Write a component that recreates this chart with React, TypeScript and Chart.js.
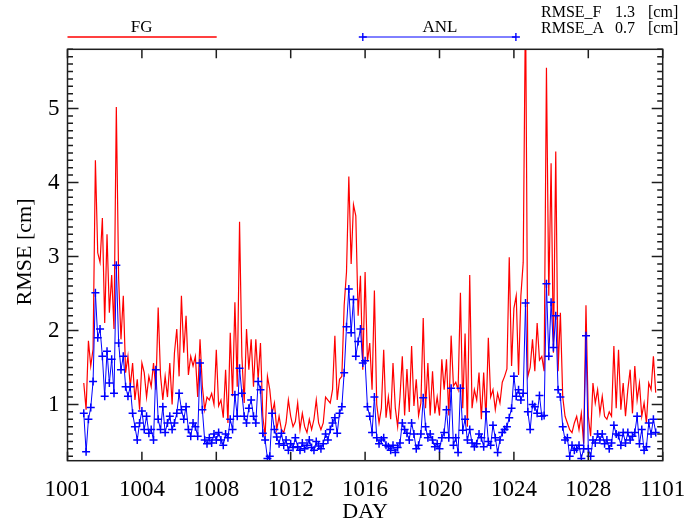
import React, { useEffect, useRef } from "react";
import { Chart, registerables } from "chart.js";

Chart.register(...registerables);

// ---- data ----
const xTickValues = [0, 4, 8, 12, 16, 20, 24, 28, 32];
const xTickLabels = ["1001", "1004", "1008", "1012", "1016", "1020", "1024", "1028", "1101"];
const yTickValues = [1, 2, 3, 4, 5];
const yMin = 0.24;
const yMax = 5.8;
const xMin = 0;
const xMax = 32;
// 3-hourly samples
const startDay = 0.875;
const stepDay = 0.125;

const fgRmse = [
  1.29, 0.93, 1.86, 1.52, 1.75, 4.30, 3.05, 2.92, 3.52, 2.10,
  3.30, 2.24, 2.75, 2.02, 5.02, 2.70, 1.88, 2.47, 1.43, 1.65,
  1.24, 1.56, 1.06, 1.34, 0.93, 1.56, 1.43, 1.10, 1.38, 1.24,
  1.56, 1.20, 2.31, 1.40, 1.06, 1.38, 1.10, 1.56, 1.00, 1.70,
  2.02, 1.38, 2.47, 1.70, 2.20, 1.40, 1.65, 1.52, 1.65, 1.10,
  1.88, 1.25, 0.93, 1.10, 1.06, 1.15, 1.00, 1.74, 0.98, 1.06,
  0.82, 1.47, 0.75, 1.97, 1.11, 2.38, 1.24, 3.47, 1.65, 1.02,
  2.02, 1.47, 1.88, 1.24, 1.88, 1.34, 1.83, 0.84, 0.57, 1.38,
  1.20, 0.88, 1.02, 0.66, 0.84, 0.66, 0.62, 0.75, 1.06, 0.84,
  0.70, 0.77, 1.02, 0.66, 0.88, 0.70, 0.62, 0.80, 0.66, 0.80,
  1.06, 0.75, 0.66, 0.75, 1.10, 1.06, 1.02, 1.20, 1.93, 1.06,
  1.34, 1.38, 2.34, 2.79, 4.08, 2.90, 3.70, 3.55, 2.20, 2.74,
  1.47, 2.79, 1.58, 1.83, 1.20, 2.54, 1.00, 0.75, 0.95, 1.74,
  0.82, 1.10, 0.80, 1.56, 0.95, 0.70, 1.10, 1.65, 0.85, 1.48,
  0.90, 1.79, 0.98, 1.34, 0.85, 1.02, 2.17, 0.95, 1.56, 0.85,
  1.45, 0.88, 1.10, 0.85, 1.61, 1.20, 1.61, 0.85, 1.93, 1.25,
  1.30, 1.20, 2.51, 0.95, 1.96, 0.70, 2.75, 0.95, 1.20, 1.06,
  1.43, 0.80, 1.43, 0.80, 1.90, 1.10, 1.20, 0.93, 1.15, 1.02,
  1.30, 1.38, 1.48, 2.99, 1.52, 2.30, 2.47, 1.40, 2.47, 2.92,
  6.50, 1.38, 1.50, 1.88, 1.45, 2.10, 1.60, 1.65, 1.45, 5.55,
  2.47, 4.26, 1.70, 4.42, 1.45, 2.24, 1.10, 0.84, 0.75, 0.66,
  0.62, 0.75, 0.84, 0.66, 0.88, 0.47, 2.34, 0.84, 0.57, 1.29,
  1.02, 1.20, 0.88, 1.11, 0.84, 0.80, 0.90, 0.84, 1.79, 0.95,
  1.74, 0.93, 1.29, 0.84, 1.20, 1.47, 0.88, 1.52, 1.06, 1.29,
  0.84, 1.02, 0.75, 1.29, 1.20, 1.65, 1.16,
];

const anlRmse = [
  0.88, 0.36, 0.80, 0.96, 1.31, 2.51, 1.90, 2.02, 1.65, 1.11,
  1.72, 1.29, 1.61, 1.15, 2.88, 1.83, 1.47, 1.65, 1.24, 1.11,
  1.24, 0.88, 0.70, 0.52, 0.75, 0.91, 0.66, 0.84, 0.61, 0.66,
  0.52, 1.47, 0.80, 0.66, 0.97, 0.62, 0.75, 0.84, 0.66, 0.75,
  0.88, 1.15, 0.93, 0.80, 0.97, 0.66, 0.57, 0.75, 0.70, 0.57,
  1.56, 0.93, 0.52, 0.47, 0.55, 0.48, 0.60, 0.52, 0.62, 0.52,
  0.45, 0.60, 0.55, 0.80, 0.66, 1.13, 0.84, 1.49, 1.15, 0.84,
  0.75, 0.95, 1.06, 0.84, 0.75, 1.31, 1.20, 0.61, 0.52, 0.27,
  0.30, 0.88, 0.66, 0.56, 0.47, 0.61, 0.45, 0.52, 0.38, 0.47,
  0.42, 0.55, 0.43, 0.38, 0.48, 0.40, 0.45, 0.52, 0.42, 0.38,
  0.50, 0.44, 0.40, 0.47, 0.60, 0.52, 0.66, 0.75, 0.82, 0.61,
  0.88, 0.97, 1.43, 2.05, 2.56, 1.97, 2.42, 1.65, 1.85, 2.02,
  1.56, 1.59, 0.97, 0.84, 0.62, 1.10, 0.55, 0.47, 0.52, 0.55,
  0.45, 0.43, 0.38, 0.45, 0.35, 0.42, 0.48, 0.75, 0.66, 0.61,
  0.52, 0.75, 0.60, 0.40, 0.45, 0.60, 1.09, 0.70, 0.55, 0.60,
  0.52, 0.43, 0.47, 0.40, 0.55, 0.62, 0.93, 0.55, 1.22, 0.45,
  0.55, 0.35, 1.22, 0.65, 0.80, 0.52, 0.66, 0.48, 0.43, 0.47,
  0.60, 0.55, 0.43, 0.90, 0.50, 0.45, 0.72, 0.55, 0.35, 0.52,
  0.62, 0.66, 0.70, 0.82, 0.95, 1.38, 1.11, 1.20, 1.06, 1.15,
  2.37, 0.90, 0.66, 1.00, 0.97, 0.88, 1.12, 0.84, 0.85, 2.63,
  1.65, 2.38, 1.77, 2.20, 1.20, 1.10, 0.70, 0.52, 0.55, 0.30,
  0.45, 0.38, 0.40, 0.45, 0.27, 0.40, 1.93, 0.40, 0.30, 0.52,
  0.48, 0.60, 0.52, 0.60, 0.47, 0.52, 0.40, 0.48, 0.72, 0.60,
  0.58, 0.45, 0.62, 0.48, 0.62, 0.52, 0.57, 0.62, 0.84, 0.47,
  0.66, 0.38, 0.43, 0.75, 0.60, 0.80, 0.62,
];

const legendLabels = ["FG", "ANL"];
const statNames = ["RMSE_F", "RMSE_A"];
const statValues = ["1.3", "0.7"];
const statUnit = "[cm]";
const xTitle = "DAY";
const yTitle = "RMSE [cm]";

const FONT = "'Liberation Serif', 'DejaVu Serif', serif";
const RED = "rgb(255,0,0)";
const BLUE = "rgb(0,0,255)";

const toPoints = (vals: number[]) => vals.map((v, i) => ({ x: startDay + i * stepDay, y: v }));

function drawCross(ctx: CanvasRenderingContext2D, x: number, y: number, r: number) {
  ctx.moveTo(x - r, y);
  ctx.lineTo(x + r, y);
  ctx.moveTo(x, y - r);
  ctx.lineTo(x, y + r);
}

const idlPlugin = {
  id: "idlDecor",
  afterDatasetsDraw(chart: any) {
    const { ctx, chartArea: a, scales } = chart;
    const xs = scales.x;
    const ys = scales.y;
    ctx.save();
    ctx.strokeStyle = "#1e1e1e";
    ctx.lineWidth = 1.5;
    ctx.strokeRect(a.left, a.top, a.right - a.left, a.bottom - a.top);
    ctx.beginPath();
    for (const v of xTickValues) {
      const px = xs.getPixelForValue(v);
      ctx.moveTo(px, a.bottom);
      ctx.lineTo(px, a.bottom - 9);
      ctx.moveTo(px, a.top);
      ctx.lineTo(px, a.top + 9);
    }
    const k0 = Math.ceil(yMin * 10 - 1e-6);
    const k1 = Math.floor(yMax * 10 + 1e-6);
    for (let k = k0; k <= k1; k++) {
      const py = ys.getPixelForValue(k / 10);
      const len = k % 10 === 0 ? 11 : 5.5;
      ctx.moveTo(a.left, py);
      ctx.lineTo(a.left + len, py);
      ctx.moveTo(a.right, py);
      ctx.lineTo(a.right - len, py);
    }
    ctx.stroke();
    ctx.restore();
  },
  afterDraw(chart: any) {
    const { ctx, chartArea: a } = chart;
    ctx.save();
    ctx.fillStyle = "#000";
    // axis titles
    ctx.font = `22px ${FONT}`;
    ctx.textAlign = "center";
    ctx.textBaseline = "alphabetic";
    ctx.fillText(xTitle, (a.left + a.right) / 2, 518);
    ctx.save();
    ctx.translate(25, 252);
    ctx.rotate(-Math.PI / 2);
    ctx.textBaseline = "middle";
    ctx.fillText(yTitle, 0, 0);
    ctx.restore();

    // legend
    ctx.font = `17px ${FONT}`;
    ctx.textAlign = "center";
    ctx.fillText(legendLabels[0], 141.7, 32);
    ctx.fillText(legendLabels[1], 440, 32);
    ctx.lineWidth = 1.3;
    ctx.strokeStyle = RED;
    ctx.beginPath();
    ctx.moveTo(67.5, 37);
    ctx.lineTo(216.7, 37);
    ctx.stroke();
    ctx.strokeStyle = BLUE;
    ctx.lineWidth = 1;
    ctx.beginPath();
    ctx.moveTo(362.8, 37);
    ctx.lineTo(515.9, 37);
    ctx.stroke();
    ctx.lineWidth = 1.4;
    ctx.beginPath();
    drawCross(ctx, 362.8, 37, 4);
    drawCross(ctx, 515.9, 37, 4);
    ctx.stroke();

    // stats
    ctx.font = `16px ${FONT}`;
    ctx.textAlign = "left";
    const baselines = [17, 33];
    for (let i = 0; i < statNames.length; i++) {
      ctx.fillText(statNames[i], 541, baselines[i]);
      ctx.fillText(statValues[i], 615, baselines[i]);
      ctx.fillText(statUnit, 648, baselines[i]);
    }
    ctx.restore();
  },
};

export default function App() {
  const ref = useRef<HTMLCanvasElement | null>(null);
  useEffect(() => {
    document.body.style.margin = "0";
    const canvas = ref.current;
    if (!canvas) return;
    const chart = new Chart(canvas, {
      type: "scatter",
      data: {
        datasets: [
          {
            label: legendLabels[1],
            data: toPoints(anlRmse),
            showLine: true,
            borderColor: BLUE,
            borderWidth: 1,
            pointStyle: "cross",
            pointRadius: 4,
            pointBorderWidth: 1.5,
            pointBorderColor: BLUE,
            pointBackgroundColor: BLUE,
            tension: 0,
          },
          {
            label: legendLabels[0],
            data: toPoints(fgRmse),
            showLine: true,
            borderColor: RED,
            borderWidth: 1.2,
            pointRadius: 0,
            tension: 0,
          },
        ],
      },
      options: {
        responsive: false,
        devicePixelRatio: 1,
        animation: false,
        events: [],
        layout: { padding: { left: 0, top: 49.3, right: 22.3, bottom: 0 } },
        plugins: { legend: { display: false }, tooltip: { enabled: false } },
        scales: {
          x: {
            type: "linear",
            min: xMin,
            max: xMax,
            grid: { display: false, drawTicks: false },
            border: { display: false },
            afterBuildTicks: (s: any) => {
              s.ticks = xTickValues.map((v) => ({ value: v }));
            },
            afterFit: (s: any) => {
              s.height = 63.3;
              s.paddingLeft = 0;
              s.paddingRight = 0;
            },
            ticks: {
              autoSkip: false,
              maxRotation: 0,
              minRotation: 0,
              padding: 15,
              color: "#000",
              font: { family: FONT, size: 23 },
              callback: (v: any) => {
                const idx = xTickValues.indexOf(Number(v));
                return idx >= 0 ? xTickLabels[idx] : "";
              },
            },
          },
          y: {
            type: "linear",
            min: yMin,
            max: yMax,
            grid: { display: false, drawTicks: false },
            border: { display: false },
            afterBuildTicks: (s: any) => {
              s.ticks = yTickValues.map((v) => ({ value: v }));
            },
            afterFit: (s: any) => {
              s.width = 67.5;
              s.paddingTop = 0;
              s.paddingBottom = 0;
            },
            ticks: {
              autoSkip: false,
              padding: 8,
              color: "#000",
              font: { family: FONT, size: 23 },
              callback: (v: any) => String(v),
            },
          },
        },
      },
      plugins: [idlPlugin],
    });
    return () => chart.destroy();
  }, []);
  return (
    <div style={{ width: 685, height: 524 }}>
      <canvas ref={ref} width={685} height={524} style={{ display: "block", width: 685, height: 524 }} />
    </div>
  );
}
